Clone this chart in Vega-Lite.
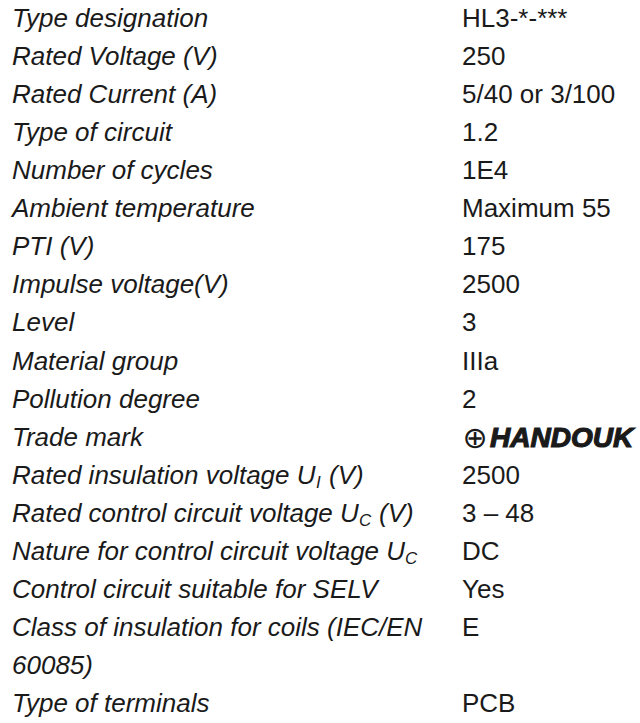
{
  "$schema": "https://vega.github.io/schema/vega-lite/v6.json",
  "width": 640,
  "height": 723,
  "autosize": {"type": "fit", "contains": "padding"},
  "padding": 0,
  "background": "white",
  "config": {
    "view": {"stroke": null},
    "text": {"font": "Liberation Sans", "fontSize": 26, "fill": "#1a1a1a"}
  },
  "data": {
    "values": [
      {"line": 0, "label": "Type designation", "value": "HL3-*-***"},
      {"line": 1, "label": "Rated Voltage (V)", "value": "250"},
      {"line": 2, "label": "Rated Current (A)", "value": "5/40 or 3/100"},
      {"line": 3, "label": "Type of circuit", "value": "1.2"},
      {"line": 4, "label": "Number of cycles", "value": "1E4"},
      {"line": 5, "label": "Ambient temperature", "value": "Maximum 55"},
      {"line": 6, "label": "PTI (V)", "value": "175"},
      {"line": 7, "label": "Impulse voltage(V)", "value": "2500"},
      {"line": 8, "label": "Level", "value": "3"},
      {"line": 9, "label": "Material group", "value": "IIIa"},
      {"line": 10, "label": "Pollution degree", "value": "2"},
      {"line": 11, "label": "Trade mark", "value": "", "brand": "HANDOUK"},
      {"line": 12, "label": "Rated insulation voltage U", "value": "2500", "sub": "I", "suffix": "(V)"},
      {"line": 13, "label": "Rated control circuit voltage U", "value": "3 – 48", "sub": "C", "suffix": "(V)"},
      {"line": 14, "label": "Nature for control circuit voltage U", "value": "DC", "sub": "C"},
      {"line": 15, "label": "Control circuit suitable for SELV", "value": "Yes"},
      {"line": 16, "label": "Class of insulation for coils (IEC/EN", "value": "E"},
      {"line": 17, "label": "60085)", "value": ""},
      {"line": 18, "label": "Type of terminals", "value": "PCB"}
    ]
  },
  "encoding": {
    "y": {"field": "line", "type": "ordinal", "axis": null, "scale": {"type": "point", "padding": 0.5}}
  },
  "layer": [
    {
      "mark": {"type": "text", "align": "left", "baseline": "middle", "fontStyle": "italic"},
      "encoding": {
        "x": {"datum": "label", "type": "nominal", "axis": null, "scale": {"type": "point", "domain": ["label", "value"], "range": [12, 462], "padding": 0}},
        "text": {"field": "label"}
      }
    },
    {
      "mark": {"type": "text", "align": "left", "baseline": "middle"},
      "encoding": {"x": {"datum": "value", "type": "nominal"}, "text": {"field": "value"}}
    },
    {
      "transform": [{"filter": "datum.line == 12"}],
      "mark": {"type": "text", "align": "left", "baseline": "middle", "fontStyle": "italic", "fontSize": 17, "dx": 304, "dy": 7},
      "encoding": {"x": {"datum": "label", "type": "nominal"}, "text": {"field": "sub"}}
    },
    {
      "transform": [{"filter": "datum.line == 12"}],
      "mark": {"type": "text", "align": "left", "baseline": "middle", "fontStyle": "italic", "dx": 317},
      "encoding": {"x": {"datum": "label", "type": "nominal"}, "text": {"field": "suffix"}}
    },
    {
      "transform": [{"filter": "datum.line == 13"}],
      "mark": {"type": "text", "align": "left", "baseline": "middle", "fontStyle": "italic", "fontSize": 17, "dx": 347, "dy": 7},
      "encoding": {"x": {"datum": "label", "type": "nominal"}, "text": {"field": "sub"}}
    },
    {
      "transform": [{"filter": "datum.line == 13"}],
      "mark": {"type": "text", "align": "left", "baseline": "middle", "fontStyle": "italic", "dx": 367},
      "encoding": {"x": {"datum": "label", "type": "nominal"}, "text": {"field": "suffix"}}
    },
    {
      "transform": [{"filter": "datum.line == 14"}],
      "mark": {"type": "text", "align": "left", "baseline": "middle", "fontStyle": "italic", "fontSize": 17, "dx": 393, "dy": 7},
      "encoding": {"x": {"datum": "label", "type": "nominal"}, "text": {"field": "sub"}}
    },
    {
      "transform": [{"filter": "datum.line == 11"}],
      "mark": {"type": "text", "align": "center", "baseline": "middle", "font": "DejaVu Sans", "fontSize": 30, "dx": 13, "dy": 1},
      "encoding": {"x": {"datum": "value", "type": "nominal"}, "text": {"value": "⊕"}}
    },
    {
      "transform": [{"filter": "datum.line == 11"}],
      "mark": {"type": "text", "align": "left", "baseline": "middle", "fontStyle": "italic", "fontWeight": "bold", "fontSize": 28, "stroke": "#1a1a1a", "strokeWidth": 1.2, "dx": 28, "dy": 1},
      "encoding": {"x": {"datum": "value", "type": "nominal"}, "text": {"field": "brand"}}
    }
  ]
}
